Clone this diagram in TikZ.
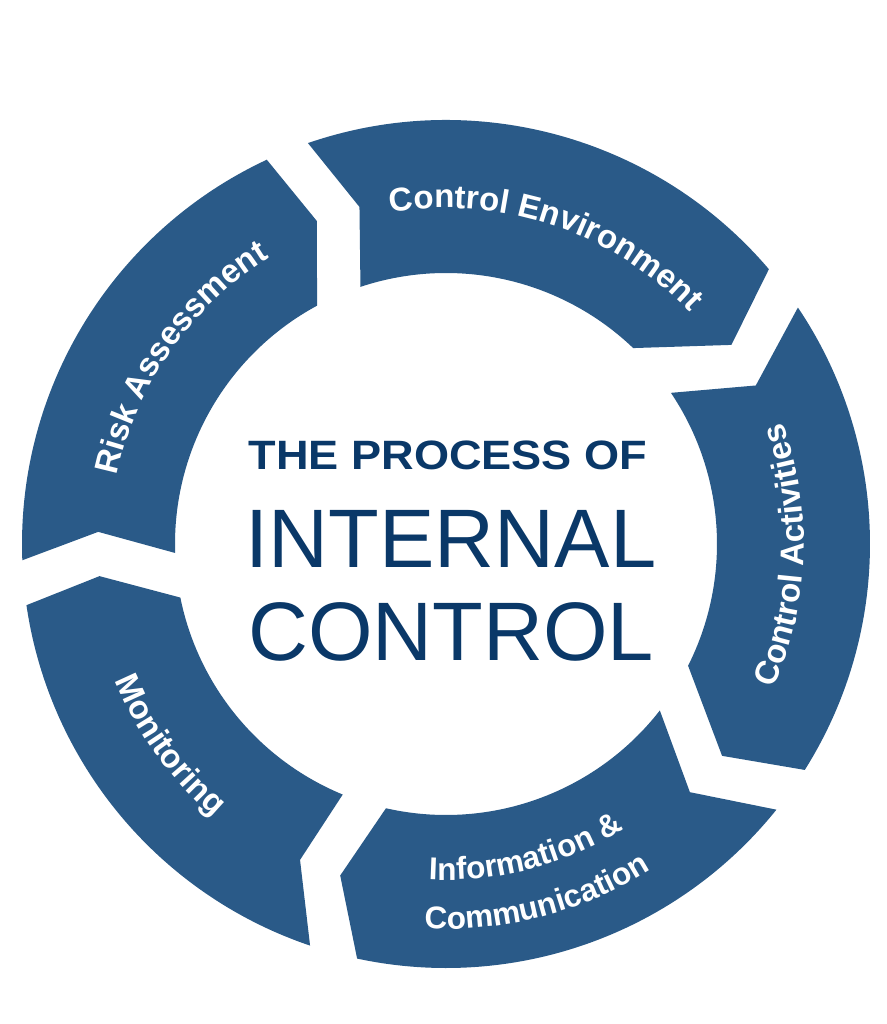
\documentclass[tikz,border=0pt]{standalone}
\usepackage{fontspec}
\setmainfont{Liberation Sans}
\usetikzlibrary{decorations.text}

\definecolor{ringblue}{RGB}{42,90,136}
\definecolor{titlenavy}{RGB}{10,56,104}
\newcommand{\ringfont}{\fontsize{33}{38}\selectfont\bfseries}
\newcommand{\infofont}{\fontsize{31.5}{36}\selectfont\bfseries}

\tikzset{
  segment/.style={fill=ringblue, draw=none},
  ringlabel/.style={decorate, decoration={text along path, text color=white, text align=center, text={#1}}},
  proctitle/.style={text=titlenavy, font=\fontsize{41}{48}\selectfont\bfseries, xscale=1.1, transform shape, inner sep=0pt},
  bigtitle/.style={text=titlenavy, font=\fontsize{83}{90}\selectfont, inner sep=0pt}
}

\begin{document}
\begin{tikzpicture}
        \useasboundingbox (-446pt,-480pt) rectangle (440pt,544pt);

        % ring segments, clockwise
        \fill[segment] (182.2:424pt) arc[start angle=182.2, end angle=115.0, radius=424pt] -- (111.8:348pt) -- (118.4:271pt) arc[start angle=118.4, end angle=181.9, radius=271pt] -- (178.0:348pt) -- cycle;
        \fill[segment] (109.0:424pt) arc[start angle=109.0, end angle=40.4, radius=424pt] -- (34.9:348pt) -- (46.3:271pt) arc[start angle=46.3, end angle=108.4, radius=271pt] -- (104.4:348pt) -- cycle;
        \fill[segment] (33.9:424pt) arc[start angle=33.9, end angle=-32.2, radius=424pt] -- (-37.5:348pt) -- (-26.7:271pt) arc[start angle=-26.7, end angle=33.9, radius=271pt] -- (27.1:348pt) -- cycle;
        \fill[segment] (-38.8:424pt) arc[start angle=-38.8, end angle=-102.1, radius=424pt] -- (-107.7:348pt) -- (-102.8:271pt) arc[start angle=-102.8, end angle=-37.9, radius=271pt] -- (-45.5:348pt) -- cycle;
        \fill[segment] (-108.7:424pt) arc[start angle=-108.7, end angle=-171.7, radius=424pt] -- (-174.7:348pt) -- (-168.6:271pt) arc[start angle=-168.6, end angle=-112.4, radius=271pt] -- (-114.8:348pt) -- cycle;

        % labels along the ring
        \path[ringlabel={|\ringfont|Risk Assessment}] (190:336pt) arc[start angle=190, end angle=100, radius=336pt];
        \path[ringlabel={|\ringfont|Control Environment}] (116.5:336pt) arc[start angle=116.5, end angle=26.5, radius=336pt];
        \path[ringlabel={|\ringfont|Control Activities}] (-47:358pt) arc[start angle=-47, end angle=43, radius=358pt];
        \path[ringlabel={|\infofont|Information {\&}}] (-120.5:336pt) arc[start angle=-120.5, end angle=-30.5, radius=336pt];
        \path[ringlabel={|\infofont|Communication}] (-120.5:385pt) arc[start angle=-120.5, end angle=-30.5, radius=385pt];
        \path[ringlabel={|\ringfont|Monitoring}] (171:358pt) arc[start angle=171, end angle=261, radius=358pt];

        % centre title
        \node[proctitle, anchor=base] (process) at (2pt,74pt) {THE PROCESS OF};
        \node[bigtitle, anchor=base] (internal) at (5pt,-24pt) {INTERNAL};
        \node[bigtitle, anchor=base] (control) at ([yshift=-92pt]internal.base) {CONTROL};
\end{tikzpicture}
\end{document}
